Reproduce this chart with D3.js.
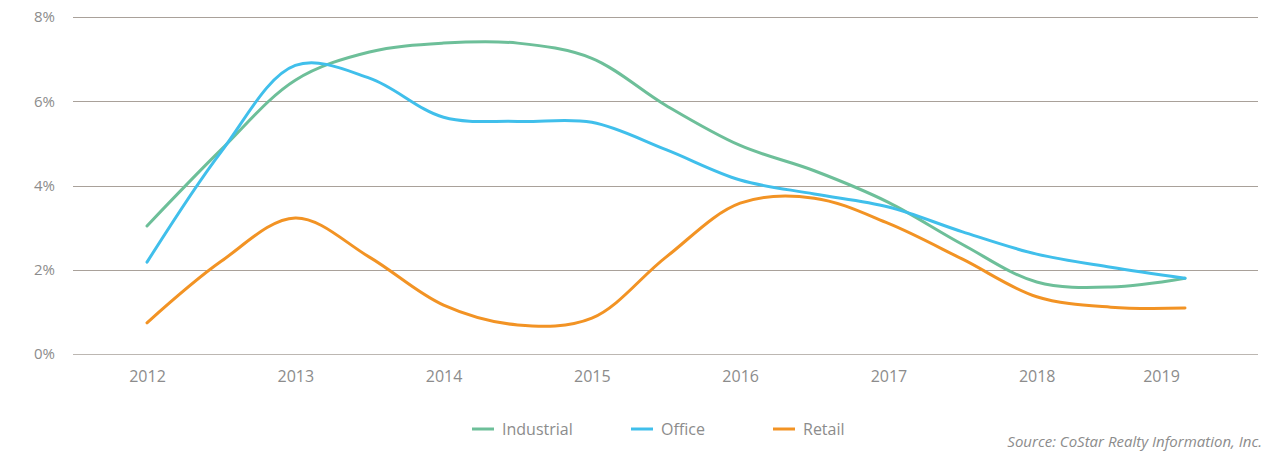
<!DOCTYPE html>
<html>
<head>
<meta charset="utf-8">
<script src="https://cdn.jsdelivr.net/npm/d3@7"></script>
<style>
  body { margin: 0; background: #fff; }
  svg { display: block; font-family: "Open Sans", sans-serif; }
</style>
</head>
<body>
<div class="chart-container"></div>
<script>
// half-year points
const periods = [2012, 2012.5, 2013, 2013.5, 2014, 2014.5, 2015, 2015.5, 2016, 2016.5, 2017, 2017.5, 2018, 2018.5, 2019];
const industrial = [3.04, 4.85, 6.5, 7.17, 7.38, 7.38, 7.02, 5.9, 4.95, 4.35, 3.6, 2.6, 1.71, 1.59, 1.8];
const office     = [2.18, 4.8, 6.85, 6.55, 5.62, 5.52, 5.5, 4.85, 4.13, 3.8, 3.49, 2.9, 2.37, 2.06, 1.8];
const retail     = [0.74, 2.2, 3.23, 2.3, 1.16, 0.69, 0.85, 2.3, 3.58, 3.7, 3.1, 2.25, 1.36, 1.11, 1.09];
const yearTicks = [2012, 2013, 2014, 2015, 2016, 2017, 2018, 2019];
const pctTicks = [0, 2, 4, 6, 8];
const seriesNames = ['Industrial', 'Office', 'Retail'];
const colors = ['#6dbf99', '#40bfeb', '#f29324'];

const width = 1287, height = 455;

const svg = d3.select('.chart-container').append('svg')
    .attr('width', width)
    .attr('height', height);

const x = d3.scaleLinear()
    .domain([2012, 2019])
    .range([147, 1185]);

const y = d3.scaleLinear()
    .domain([0, 8])
    .range([354, 17]);

// grid
const grid = svg.append('g').attr('class', 'grid');
grid.selectAll('line')
    .data(pctTicks)
    .enter()
    .append('line')
    .attr('x1', 73)
    .attr('x2', 1258)
    .attr('y1', d => Math.round(y(d)) + 0.5)
    .attr('y2', d => Math.round(y(d)) + 0.5)
    .attr('stroke', d => d === 0 ? '#bcb7b2' : '#a9a19a')
    .attr('stroke-width', 1);

// y labels
svg.append('g')
    .selectAll('text')
    .data(pctTicks)
    .enter()
    .append('text')
    .attr('x', 55)
    .attr('y', d => y(d))
    .attr('dy', '0.35em')
    .attr('text-anchor', 'end')
    .attr('fill', '#8c8c8c')
    .style('font-size', '15px')
    .text(d => d + '%');

// x labels
const xAxis = d3.axisBottom(x)
    .tickValues(yearTicks)
    .tickFormat(d3.format('d'))
    .tickSize(0)
    .tickPadding(0);

const xg = svg.append('g')
    .attr('transform', 'translate(0,' + 371 + ')')
    .call(xAxis);
xg.select('.domain').remove();
xg.selectAll('text')
    .attr('fill', '#8c8c8c')
    .style('font-size', '16px')
    .style('font-family', '"Open Sans", sans-serif');
// last label sits left of its point in the original
xg.selectAll('.tick').filter(d => d === 2019).select('text').attr('dx', -24);

// lines
const line = d3.line()
    .x((d, i) => x(periods[i]))
    .y(d => y(d))
    .curve(d3.curveCatmullRom.alpha(0.5));

const lines = svg.append('g').attr('id', 'lines');
[industrial, office, retail].forEach((s, i) => {
    lines.append('path')
        .datum(s)
        .attr('fill', 'none')
        .attr('stroke', colors[i])
        .attr('stroke-width', 3)
        .attr('stroke-linecap', 'round')
        .attr('d', line);
});

// legend
const legendX = [472, 631, 773];
const legend = svg.append('g').attr('id', 'legend');
seriesNames.forEach((name, i) => {
    const g = legend.append('g').attr('transform', 'translate(' + legendX[i] + ',429)');
    g.append('line')
        .attr('x1', 0).attr('x2', 22)
        .attr('stroke', colors[i])
        .attr('stroke-width', 3);
    g.append('text')
        .attr('x', 30)
        .attr('dy', '0.35em')
        .attr('fill', '#8c8c8c')
        .style('font-size', '16px')
        .text(name);
});

svg.append('text')
    .attr('x', 1262)
    .attr('y', 442)
    .attr('dy', '0.35em')
    .attr('text-anchor', 'end')
    .attr('fill', '#8c8c8c')
    .style('font-size', '15px')
    .style('font-style', 'italic')
    .text('Source: CoStar Realty Information, Inc.');
</script>
</body>
</html>
